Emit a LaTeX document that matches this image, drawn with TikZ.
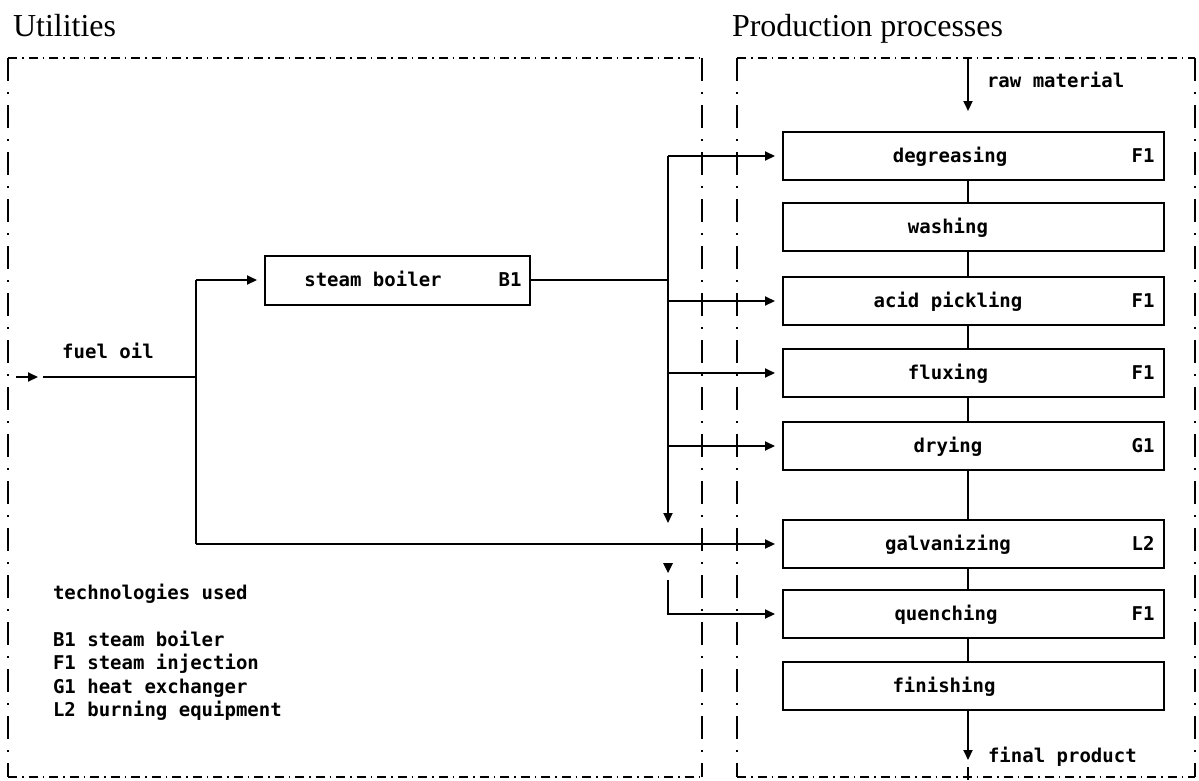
\documentclass[tikz,border=0pt]{standalone}
\usepackage{fontspec}
\setmainfont{Liberation Serif}
\newfontfamily\plotfont{DejaVu Sans Mono}
\usetikzlibrary{arrows.meta}

\begin{document}
\begin{tikzpicture}[x=1pt,y=-1pt,
  line width=2pt,
  proc/.style={draw, minimum width=381pt, minimum height=48pt, inner sep=0pt},
  lbl/.style={font=\plotfont\bfseries\fontsize{19}{19}\selectfont, inner sep=0pt, anchor=base},
  lgd/.style={lbl, anchor=base west},
  heading/.style={font=\fontsize{32}{32}\selectfont, inner sep=0pt, anchor=base west},
  hpat/.style={line width=1.7pt, dash pattern=on 9pt off 5pt on 1.5pt off 5pt},
  vpat/.style={line width=1.7pt, dash pattern=on 23pt off 11pt on 2pt off 11pt},
  flow/.style={-{Triangle[length=10pt,width=9pt]}},
  feed/.style={flow, shorten >=7pt},
]
\useasboundingbox (0,0) rectangle (1199,780);

% headings
\node[heading] (hu) at (12,36) {Utilities};
\node[heading] (hp) at (731,36) {Production processes};

% dash-dot frames
\coordinate (lu1) at (8,58);   \coordinate (lu2) at (702,58);
\coordinate (ld1) at (8,777);  \coordinate (ld2) at (702,777);
\coordinate (ru1) at (737,58); \coordinate (ru2) at (1195,58);
\coordinate (rd1) at (737,777);\coordinate (rd2) at (1195,777);
\draw[hpat] (lu1) -- (lu2);
\draw[hpat] (ld1) -- (ld2);
\draw[vpat] (lu1) -- (ld1);
\draw[vpat] (lu2) -- (ld2);
\draw[hpat] (ru1) -- (ru2);
\draw[hpat] (rd1) -- (rd2);
\draw[vpat] (ru1) -- (rd1);
\draw[vpat] (ru2) -- (rd2);

% process chain
\node[proc] (deg)  at (973.5,156) {};
\node[proc] (wash) at (973.5,227) {};
\node[proc] (acid) at (973.5,301) {};
\node[proc] (flux) at (973.5,373) {};
\node[proc] (dry)  at (973.5,446) {};
\node[proc] (galv) at (973.5,544) {};
\node[proc] (quen) at (973.5,614) {};
\node[proc] (fini) at (973.5,686) {};

\node[lbl] (tdeg)  at (950,162) {degreasing};
\node[lbl] (twash) at (948,233) {washing};
\node[lbl] (tacid) at (948,307) {acid pickling};
\node[lbl] (tflux) at (948,379) {fluxing};
\node[lbl] (tdry)  at (948,452) {drying};
\node[lbl] (tgalv) at (948,550) {galvanizing};
\node[lbl] (tquen) at (946,620) {quenching};
\node[lbl] (tfini) at (944,692) {finishing};

\node[lbl] (cdeg)  at (1143,162) {F1};
\node[lbl] (cacid) at (1143,307) {F1};
\node[lbl] (cflux) at (1143,379) {F1};
\node[lbl] (cdry)  at (1143,452) {G1};
\node[lbl] (cgalv) at (1143,550) {L2};
\node[lbl] (cquen) at (1143,620) {F1};

\coordinate (cx) at (968,0);
\draw (deg.south -| cx)  -- (wash.north -| cx);
\draw (wash.south -| cx) -- (acid.north -| cx);
\draw (acid.south -| cx) -- (flux.north -| cx);
\draw (flux.south -| cx) -- (dry.north -| cx);
\draw (dry.south -| cx)  -- (galv.north -| cx);
\draw (galv.south -| cx) -- (quen.north -| cx);
\draw (quen.south -| cx) -- (fini.north -| cx);

% raw material in, final product out
\coordinate (rm0) at (968,58);
\coordinate (rm1) at (968,111);
\draw[flow] (rm0) -- (rm1);
\node[lbl, anchor=base west] (trm) at (986,87) {raw material};
\coordinate (fp1) at (968,760);
\draw[flow] (fini.south -| cx) -- (fp1);
\coordinate (fp2) at (968,767);
\coordinate (fp3) at (968,780);
\draw (fp2) -- (fp3);
\node[lbl, anchor=base west] (tfp) at (987,762) {final product};

% steam boiler
\node[draw, minimum width=265pt, minimum height=49pt, inner sep=0pt] (boil) at (397.5,280) {};
\node[lbl] (tboil) at (373,286) {steam boiler};
\node[lbl] (cboil) at (510,286) {B1};

% fuel oil supply
\coordinate (f0) at (16,377);
\coordinate (f1) at (38,377);
\coordinate (f2) at (43,377);
\coordinate (bj) at (196,280);
\coordinate (gj) at (196,544);
\draw[flow] (f0) -- (f1);
\draw (f2) -- (f2 -| bj);
\draw (bj) -- (gj);
\draw[feed] (bj) -- (boil.west);
\draw[feed] (gj) -- (galv.west);
\node[lbl] (tfuel) at (108,358) {fuel oil};

% steam distribution
\coordinate (sx) at (668,0);
\coordinate (sd) at (668,523);
\draw (boil.east) -- (boil.east -| sx);
\draw[flow] (deg.west -| sx) -- (sd);
\draw[feed] (deg.west -| sx)  -- (deg.west);
\draw[feed] (acid.west -| sx) -- (acid.west);
\draw[feed] (flux.west -| sx) -- (flux.west);
\draw[feed] (dry.west -| sx)  -- (dry.west);
\coordinate (tri) at (668,563);
\fill (tri) ++(-5,0) -- ++(10,0) -- ++(-5,10) -- cycle;
\coordinate (qs) at (668,580);
\draw[feed] (qs) |- (quen.west);

% legend
\node[lgd] (lg0) at (52,599) {technologies used};
\node[lgd] (lg1) at (52,646) {B1 steam boiler};
\node[lgd] (lg2) at (52,669) {F1 steam injection};
\node[lgd] (lg3) at (52,693) {G1 heat exchanger};
\node[lgd] (lg4) at (52,716) {L2 burning equipment};
\end{tikzpicture}
\end{document}
